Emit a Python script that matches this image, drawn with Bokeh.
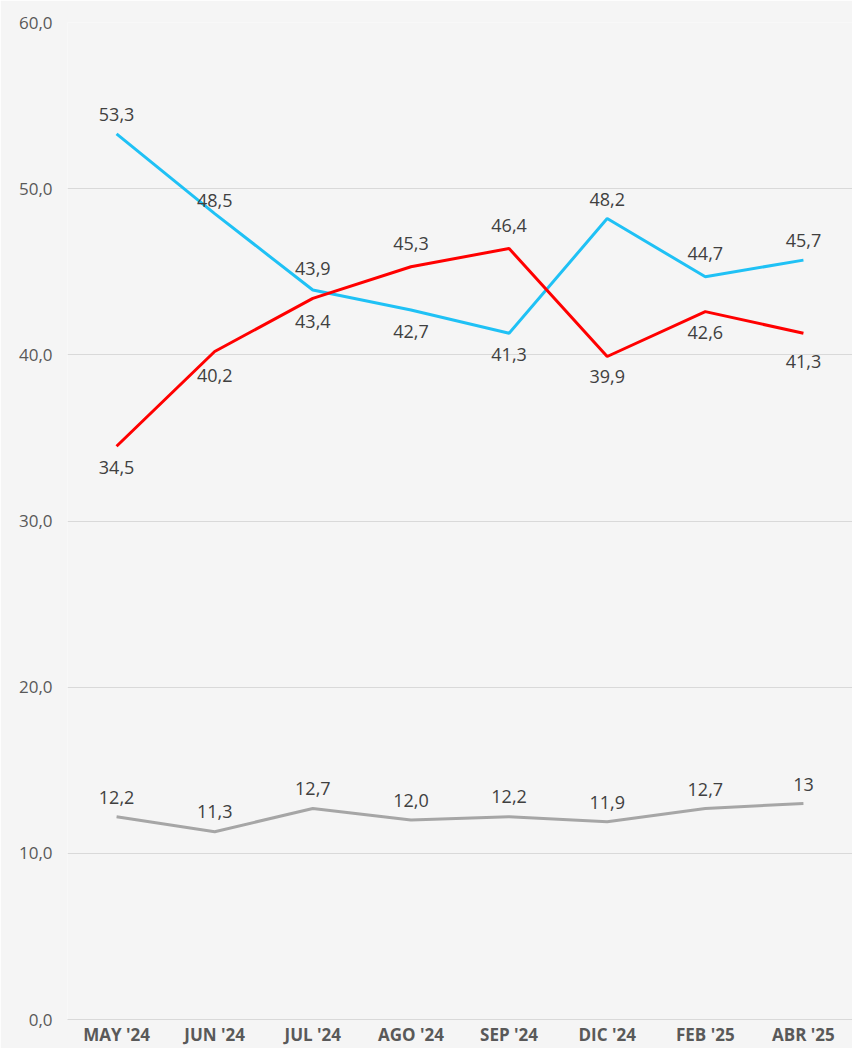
from bokeh.plotting import figure
from bokeh.models import ColumnDataSource, CustomJSTickFormatter, FixedTicker, Range1d
from bokeh.core.properties import value
from bokeh.embed import file_html
from bokeh.resources import INLINE

categories = ["MAY '24", "JUN '24", "JUL '24", "AGO '24", "SEP '24", "DIC '24", "FEB '25", "ABR '25"]
blue_values = [53.3, 48.5, 43.9, 42.7, 41.3, 48.2, 44.7, 45.7]
red_values = [34.5, 40.2, 43.4, 45.3, 46.4, 39.9, 42.6, 41.3]
gray_values = [12.2, 11.3, 12.7, 12.0, 12.2, 11.9, 12.7, 13]
blue_text = ["53,3", "48,5", "43,9", "42,7", "41,3", "48,2", "44,7", "45,7"]
red_text = ["34,5", "40,2", "43,4", "45,3", "46,4", "39,9", "42,6", "41,3"]
gray_text = ["12,2", "11,3", "12,7", "12,0", "12,2", "11,9", "12,7", "13"]
y_ticks = [0, 10, 20, 30, 40, 50, 60]

# label offsets (screen px, positive = below)
blue_off = [-19, -13, -22, 22, 21, -19, -23, -20]
red_off = [21, 24, 23, -23, -23, 20, 21, 28]
gray_off = [-19, -20, -20, -20, -20, -19, -19, -19]

BG = "#f5f5f5"
FONT = "Open Sans"

p = figure(x_range=categories, y_range=Range1d(0, 60), width=852, height=1048,
           output_backend="svg", toolbar_location=None,
           background_fill_color=BG, border_fill_color=BG,
           min_border_left=67, min_border_right=0, min_border_top=22, min_border_bottom=28)
p.outline_line_color = None
p.x_range.range_padding = 0

p.xgrid.grid_line_color = None
p.ygrid.grid_line_color = "#d9d9d9"
p.ygrid.grid_line_width = 1
p.yaxis.ticker = FixedTicker(ticks=y_ticks)
p.yaxis.formatter = CustomJSTickFormatter(code="return tick.toFixed(1).replace('.', ',');")
p.yaxis.axis_line_color = None
p.yaxis.major_tick_line_color = None
p.yaxis.minor_tick_line_color = None
p.yaxis.major_tick_out = 0
p.yaxis.major_label_standoff = 15
p.yaxis.major_label_text_font = FONT
p.yaxis.major_label_text_font_size = "17px"
p.yaxis.major_label_text_color = "#595959"

p.xaxis.axis_line_color = "#d9d9d9"
p.xaxis.major_tick_line_color = None
p.xaxis.minor_tick_line_color = None
p.xaxis.major_tick_out = 0
p.xaxis.major_label_standoff = 3
p.xaxis.major_label_text_font = FONT
p.xaxis.major_label_text_font_size = "17px"
p.xaxis.major_label_text_font_style = "bold"
p.xaxis.major_label_text_color = "#595959"

series = [
    (blue_values, blue_text, blue_off, "#1fc1f5"),
    (red_values, red_text, red_off, "#ff0000"),
    (gray_values, gray_text, gray_off, "#a6a6a6"),
]
for vals, txt, off, col in series:
    src = ColumnDataSource(dict(x=categories, y=vals, t=txt, off=off))
    p.line("x", "y", source=src, line_color=col, line_width=3)
for vals, txt, off, col in series:
    src = ColumnDataSource(dict(x=categories, y=vals, t=txt, off=off))
    p.text("x", "y", text="t", source=src, y_offset="off", text_align="center",
           text_baseline="middle", text_font=value(FONT), text_font_size="18px",
           text_color="#404040")

open("out.html", "w").write(file_html(p, INLINE))
